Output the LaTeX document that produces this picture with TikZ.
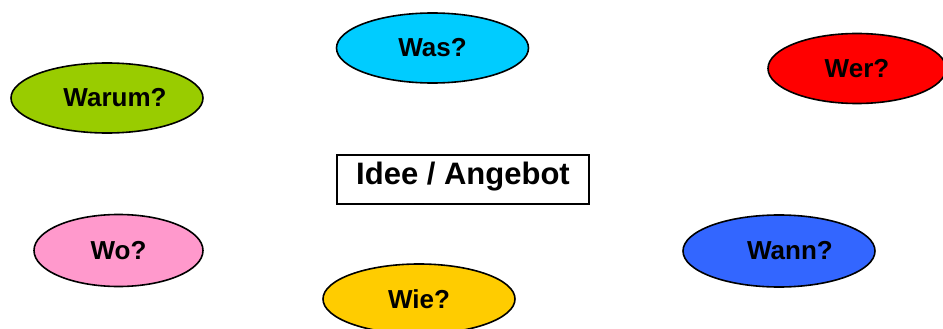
\documentclass[tikz,border=0pt]{standalone}
\usepackage{fontspec}
\setmainfont{Liberation Sans}
\usetikzlibrary{shapes.geometric}
\definecolor{wascol}{HTML}{00CCFF}
\definecolor{wercol}{HTML}{FF0000}
\definecolor{warumcol}{HTML}{99CC00}
\definecolor{wocol}{HTML}{FF99CC}
\definecolor{wanncol}{HTML}{3366FF}
\definecolor{wiecol}{HTML}{FFCC00}
\tikzset{
  question/.style={ellipse, draw=black, line width=1.6pt, inner sep=0pt,
    minimum width=192pt, minimum height=70pt,
    font=\fontsize{26}{30}\selectfont\bfseries},
  ideabox/.style={rectangle, draw=black, line width=1.1pt, inner sep=0pt,
    minimum width=252pt, minimum height=49pt, text depth=12.5pt,
    font=\fontsize{31}{36}\selectfont\bfseries}
}
\begin{document}
\begin{tikzpicture}[x=1pt, y=-1pt]
  \useasboundingbox (0,0) rectangle (943,329);
  \clip (0,0) rectangle (943,329);
  \node[question, fill=wascol] (was) at (432.5,48) {Was?};
  \node[question, fill=wercol, minimum width=178pt] (wer) at (857,68.5) {Wer?};
  \node[question, fill=warumcol] (warum) at (107,98) {\hspace*{16pt}Warum?};
  \node[ideabox] (idee) at (463,179.5) {Idee / Angebot};
  \node[question, fill=wocol, minimum width=169pt, minimum height=72pt] (wo) at (118.5,250.5) {Wo?};
  \node[question, fill=wanncol, minimum height=72pt] (wann) at (779,251) {\hspace*{22pt}Wann?};
  \node[question, fill=wiecol] (wie) at (419,299) {Wie?};
\end{tikzpicture}
\end{document}
